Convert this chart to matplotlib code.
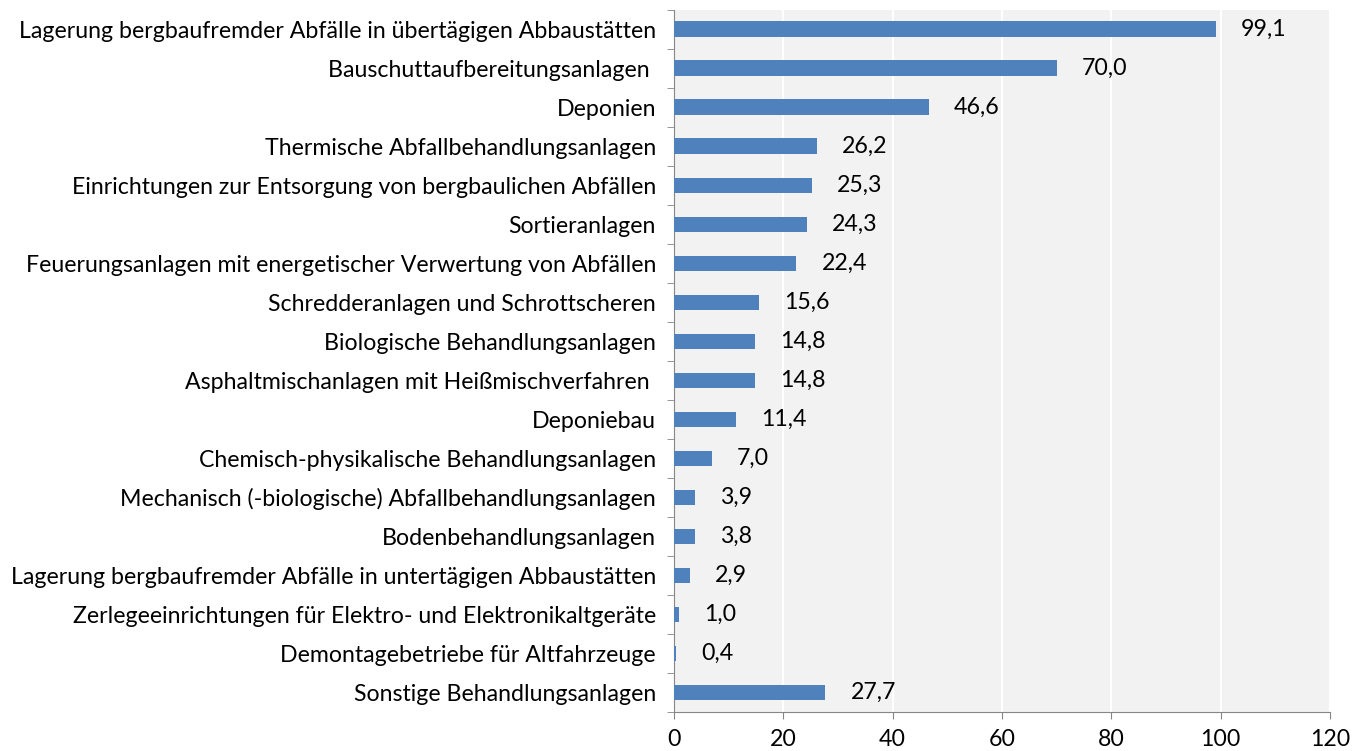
import numpy as np
import matplotlib
matplotlib.use("Agg")
import matplotlib.pyplot as plt

# --- DATA ---
categories = [
    "Lagerung bergbaufremder Abfälle in übertägigen Abbaustätten",
    "Bauschuttaufbereitungsanlagen ",
    "Deponien",
    "Thermische Abfallbehandlungsanlagen",
    "Einrichtungen zur Entsorgung von bergbaulichen Abfällen",
    "Sortieranlagen",
    "Feuerungsanlagen mit energetischer Verwertung von Abfällen",
    "Schredderanlagen und Schrottscheren",
    "Biologische Behandlungsanlagen",
    "Asphaltmischanlagen mit Heißmischverfahren ",
    "Deponiebau",
    "Chemisch-physikalische Behandlungsanlagen",
    "Mechanisch (-biologische) Abfallbehandlungsanlagen",
    "Bodenbehandlungsanlagen",
    "Lagerung bergbaufremder Abfälle in untertägigen Abbaustätten",
    "Zerlegeeinrichtungen für Elektro- und Elektronikaltgeräte",
    "Demontagebetriebe für Altfahrzeuge",
    "Sonstige Behandlungsanlagen",
]
values = [99.1, 70.0, 46.6, 26.2, 25.3, 24.3, 22.4, 15.6, 14.8, 14.8,
          11.4, 7.0, 3.9, 3.8, 2.9, 1.0, 0.4, 27.7]
x_ticks = [0, 20, 40, 60, 80, 100, 120]

plt.rcParams['font.family'] = ['Lato', 'DejaVu Sans']
FS = 16.7

fig = plt.figure(figsize=(13.61, 7.51), dpi=100)
ax = fig.add_axes([0.4952, 0.052, 0.482, 0.935])

n = len(categories)
ypos = np.arange(n)
ax.barh(ypos, values, height=0.4, color="#4F81BD", zorder=3)

# value labels, German decimal comma
for y, v in zip(ypos, values):
    ax.annotate(f"{v:.1f}".replace(".", ","), (v, y), xytext=(18, 0),
                textcoords="offset points", va="center", ha="left",
                fontsize=FS, color="black")

ax.set_facecolor("#F2F2F2")
ax.set_xlim(0, 120)
ax.set_ylim(n - 0.5, -0.5)
ax.set_xticks(x_ticks)
ax.set_xticklabels([str(t) for t in x_ticks], fontsize=FS)
ax.grid(axis="x", color="white", linewidth=1.5, zorder=0)

# category labels as plain text, ticks on the boundaries
ax.set_yticks(ypos)
ax.set_yticklabels(categories, fontsize=FS)
ax.tick_params(axis="y", length=0, pad=13)
ax.set_yticks(np.arange(-0.5, n, 1), minor=True)
ax.tick_params(axis="y", which="minor", length=5, color="#868686")
ax.tick_params(axis="x", length=5, color="#868686", pad=7)

for side in ["top", "right"]:
    ax.spines[side].set_visible(False)
for side in ["left", "bottom"]:
    ax.spines[side].set_color("#868686")

fig.savefig("out.png", dpi=100)
